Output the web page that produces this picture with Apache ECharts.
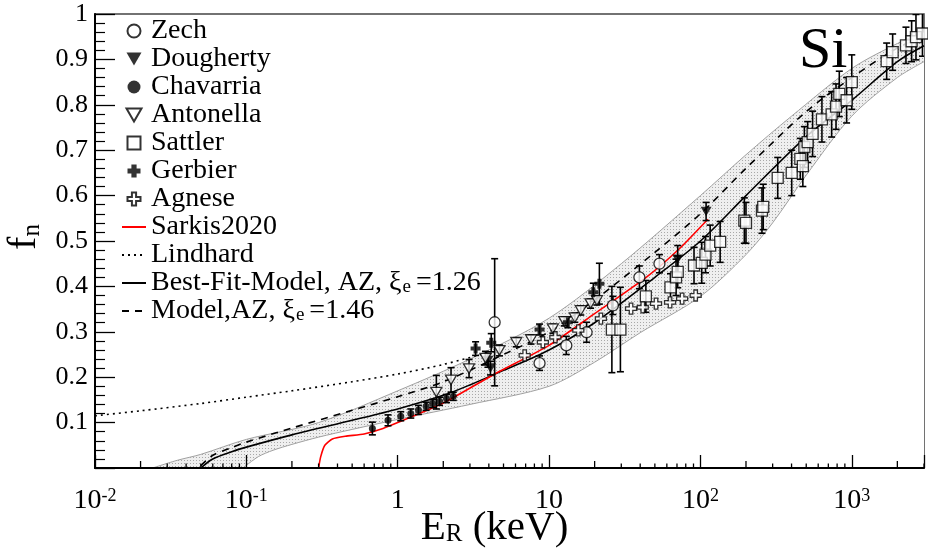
<!DOCTYPE html>
<html><head><meta charset="utf-8">
<script src="https://cdn.jsdelivr.net/npm/echarts@6/dist/echarts.min.js"></script>
<style>html,body{margin:0;padding:0;background:#fff}#c{width:928px;height:551px}</style>
</head><body><div id="c"></div>
<script>
// ---------- data ----------
const zechE = [4.37, 8.65, 13, 17.7, 26.4, 39.5, 53.6];
const zechF = [0.321, 0.231, 0.27, 0.299, 0.358, 0.42, 0.45];
const zechErr = [0.14, 0.016, 0.02, 0.022, 0.02, 0.025, 0.02];

const doughE = [3.95, 4.1, 70.8, 109];
const doughF = [0.237, 0.22, 0.46, 0.565];
const doughErr = [0.015, 0.015, 0.03, 0.02];

const chavE = [0.68, 0.863, 1.047, 1.22, 1.37, 1.54, 1.7, 1.89, 2.1, 2.33];
const chavF = [0.087, 0.105, 0.114, 0.12, 0.128, 0.136, 0.142, 0.147, 0.153, 0.158];
const chavErr = [0.014, 0.012, 0.01, 0.01, 0.01, 0.009, 0.009, 0.009, 0.009, 0.009];

const antE = [1.8, 2.25, 2.96, 3.8, 4.7, 6.07, 7.6, 10.6, 12.6, 14.8, 16.2, 18.8, 20.7];
const antF = [0.167, 0.194, 0.219, 0.242, 0.259, 0.277, 0.283, 0.307, 0.323, 0.331, 0.347, 0.362, 0.369];
const antErr = [0.037, 0.027, 0.02, 0.015, 0.012, 0.01, 0.01, 0.01, 0.01, 0.01, 0.01, 0.01, 0.01];

const satE = [26, 29.6, 43.6, 63.4, 69, 70.8, 90.7, 102, 108, 116, 135, 195, 200, 255, 260, 324, 401, 457, 475, 486, 511, 551, 635, 736, 787, 827, 924, 1000, 1700, 1862, 2280, 2485, 2655, 2931];
const satF = [0.305, 0.305, 0.378, 0.398, 0.42, 0.432, 0.446, 0.452, 0.47, 0.49, 0.498, 0.545, 0.54, 0.567, 0.575, 0.639, 0.65, 0.681, 0.665, 0.707, 0.718, 0.736, 0.768, 0.779, 0.796, 0.824, 0.81, 0.85, 0.896, 0.916, 0.931, 0.94, 0.949, 0.957];
const satErr = [0.095, 0.093, 0.035, 0.03, 0.04, 0.035, 0.04, 0.045, 0.04, 0.045, 0.045, 0.05, 0.045, 0.05, 0.05, 0.045, 0.05, 0.045, 0.045, 0.045, 0.045, 0.05, 0.05, 0.05, 0.05, 0.05, 0.05, 0.06, 0.04, 0.04, 0.04, 0.045, 0.05, 0.05];

const gerbE = [3.27, 4.15, 8.65, 13.3, 19.6, 21.5];
const gerbF = [0.263, 0.276, 0.305, 0.321, 0.387, 0.406];
const gerbErr = [0.015, 0.02, 0.012, 0.012, 0.02, 0.045];

const agnE = [6.9, 9.1, 11, 15.6, 22, 34.8, 41.6, 50.9, 63, 75.7, 93];
const agnF = [0.248, 0.277, 0.288, 0.303, 0.329, 0.351, 0.354, 0.362, 0.365, 0.373, 0.38];

const sarkisE = [0.3, 0.31, 0.33, 0.37, 0.45, 0.6, 0.8, 1, 2, 4.26, 10, 20, 43.8, 72.6, 112];
const sarkisF = [0, 0.025, 0.05, 0.064, 0.07, 0.075, 0.087, 0.1, 0.143, 0.205, 0.27, 0.34, 0.42, 0.483, 0.548];

const lindE = [0.01, 0.02, 0.05, 0.1, 0.2, 0.5, 1, 2, 4];
const lindF = [0.115, 0.126, 0.142, 0.156, 0.17, 0.19, 0.207, 0.228, 0.255];

const bestE = [0.05, 0.06, 0.08, 0.1, 0.2, 0.5, 1, 2, 3, 5, 10, 20, 50, 100, 200, 500, 1000, 2000, 3000];
const bestF = [0, 0.02, 0.036, 0.046, 0.073, 0.105, 0.13, 0.16, 0.183, 0.215, 0.26, 0.32, 0.42, 0.5, 0.6, 0.73, 0.81, 0.895, 0.93];

const modelE = [0.05, 0.06, 0.08, 0.1, 0.2, 0.5, 1, 2, 5, 10, 20, 50, 100, 200, 500, 1000, 2000, 3000];
const modelF = [0.005, 0.028, 0.045, 0.057, 0.088, 0.127, 0.157, 0.19, 0.25, 0.3, 0.37, 0.475, 0.56, 0.66, 0.785, 0.86, 0.925, 0.95];

const bandUpE = [0.024, 0.035, 0.05, 0.1, 0.3, 1, 3, 10, 30, 100, 200, 400, 1000, 2000, 3000];
const bandUpF = [0, 0.017, 0.03, 0.063, 0.1, 0.17, 0.24, 0.33, 0.45, 0.6, 0.69, 0.775, 0.88, 0.935, 0.96];
const bandLoE = [0.095, 0.12, 0.15, 0.2, 0.3, 0.5, 1, 3, 10, 20, 40, 100, 200, 300, 500, 1000, 2000, 3000];
const bandLoF = [0, 0.025, 0.039, 0.052, 0.068, 0.085, 0.107, 0.14, 0.18, 0.233, 0.298, 0.378, 0.47, 0.54, 0.645, 0.775, 0.86, 0.895];

const xTickDecades = [0.01, 0.1, 1, 10, 100, 1000];
const xMinorMult = [2, 3, 4, 5, 6, 7, 8, 9];

// ---------- helpers ----------
const FONT = 'Liberation Serif';
const pairs = (E, F) => E.map((e, i) => [e, F[i]]);
const triples = (E, F, R) => E.map((e, i) => [e, F[i], R[i]]);

// stipple pattern for the band
const pat = document.createElement('canvas');
pat.width = 3; pat.height = 3;
(function () {
  const c = pat.getContext('2d');
  c.fillStyle = '#efefef'; c.fillRect(0, 0, 3, 3);
  c.fillStyle = '#a8a8a8'; c.fillRect(1, 1, 1, 1);
})();

const SYM_TRI_DOWN = 'path://M0,0L10,0L5,8.66Z';
const SYM_SQUARE = 'path://M0,0H10V10H0Z';
const SYM_PLUS_OPEN = 'path://M3.4,0H6.6V3.4H10V6.6H6.6V10H3.4V6.6H0V3.4H3.4Z';
const SYM_PLUS_FILL = 'path://M3,0H7V3H10V7H7V10H3V7H0V3H3Z';

const openStyle = { color: '#fff', borderColor: '#000', borderWidth: 1.3 };
const fillStyle = { color: '#000', borderColor: '#000', borderWidth: 0 };

function scatter(name, E, F, symbol, size, style, z) {
  return {
    name, type: 'scatter', data: pairs(E, F), symbol, symbolSize: size,
    symbolKeepAspect: true, itemStyle: style, z: z || 6, silent: true
  };
}

const errData = [].concat(
  triples(zechE, zechF, zechErr), triples(doughE, doughF, doughErr),
  triples(chavE, chavF, chavErr), triples(antE, antF, antErr),
  triples(satE, satF, satErr), triples(gerbE, gerbF, gerbErr)
);

const minorTicks = [];
xTickDecades.forEach(d => xMinorMult.forEach(m => { if (d * m <= 3000) minorTicks.push([d * m, m]); }));

function lineSeries(name, E, F, color, type, width, z, sm) {
  return {
    name, type: 'line', data: pairs(E, F), symbol: 'none', smooth: sm,
    z: z || 4, silent: true,
    lineStyle: { color, type, width }, itemStyle: { color }
  };
}

const lineNames = ['Sarkis2020', 'Lindhard', 'Best-Fit-Model, AZ, ξe=1.26', 'Model,AZ, ξe=1.46'];
const legendNames = ['Zech', 'Dougherty', 'Chavarria', 'Antonella', 'Sattler', 'Gerbier', 'Agnese'].concat(lineNames);
const legendFmt = {
  'Best-Fit-Model, AZ, ξe=1.26': 'Best-Fit-Model, AZ, ξ{s|e}=1.26',
  'Model,AZ, ξe=1.46': 'Model,AZ, ξ{s|e}=1.46'
};

const chart = echarts.init(document.getElementById('c'), null, { renderer: 'canvas' });
const option = {
  animation: false,
  backgroundColor: '#fff',
  textStyle: { fontFamily: FONT, color: '#000' },
  grid: {
    left: 95, right: 4, top: 14, bottom: 83, show: true, borderColor: '#444', borderWidth: 1.5,
    backgroundColor: 'transparent', containLabel: false, outerBoundsMode: 'none'
  },
  legend: {
    data: legendNames.map(n => lineNames.indexOf(n) >= 0 ? { name: n, itemStyle: { opacity: 0 } } : { name: n }),
    orient: 'vertical', left: 121, top: 17, itemWidth: 24, itemHeight: 13,
    itemGap: 0, selectedMode: false, padding: 0,
    formatter: n => legendFmt[n] || n,
    textStyle: {
      fontFamily: FONT, fontSize: 28, color: '#000', lineHeight: 26.75,
      rich: { s: { fontFamily: FONT, fontSize: 19, color: '#000', lineHeight: 11, verticalAlign: 'bottom', padding: [0, 5, 0, 1] } }
    }
  },
  xAxis: {
    type: 'log', logBase: 10, min: 0.01, max: 3000, z: 10,
    axisLine: { show: true, onZero: false, lineStyle: { color: '#000', width: 2 } },
    axisTick: { show: true, inside: true, length: 13, lineStyle: { color: '#000', width: 1.3 } },
    splitLine: { show: false }, minorTick: { show: false },
    axisLabel: {
      margin: 19, color: '#000', fontFamily: FONT, fontSize: 28,
      formatter: v => {
        const l = Math.log10(v), r = Math.round(l);
        if (Math.abs(l - r) > 1e-6) return '';
        if (r === 0) return '1';
        if (r === 1) return '10';
        return '10{sup|' + (r < 0 ? '-' : '') + Math.abs(r) + '}';
      },
      rich: { sup: { fontFamily: FONT, fontSize: 18, color: '#000', lineHeight: 15, verticalAlign: 'top' } }
    },
    name: '{a|E}{s|R}{a| (keV)}', nameLocation: 'middle', nameGap: 41, nameMoveOverlap: false,
    nameTextStyle: {
      padding: [0, 30, 0, 0],
      rich: {
        a: { fontFamily: FONT, fontSize: 41, color: '#000', lineHeight: 38 },
        s: { fontFamily: FONT, fontSize: 25, color: '#000', lineHeight: 14, verticalAlign: 'bottom' }
      }
    }
  },
  yAxis: {
    type: 'value', min: 0, max: 1, interval: 0.1, z: 10,
    axisLine: { show: true, onZero: false, lineStyle: { color: '#000', width: 2 } },
    axisTick: { show: true, inside: true, length: 20, lineStyle: { color: '#000', width: 1.3 } },
    minorTick: { show: true, splitNumber: 5, length: 10, lineStyle: { color: '#000', width: 1.2 } },
    splitLine: { show: false },
    axisLabel: {
      margin: 7, color: '#000', fontFamily: FONT, fontSize: 26,
      formatter: v => v === 0 ? '' : (Math.abs(v - 1) < 1e-9 ? '1' : v.toFixed(1))
    },
    name: '{a|f}{s|n}', nameLocation: 'middle', nameRotate: 90, nameGap: 50, nameMoveOverlap: false,
    nameTextStyle: {
      padding: [0, 0, 0, 8],
      rich: {
        a: { fontFamily: FONT, fontSize: 40, color: '#000', lineHeight: 42 },
        s: { fontFamily: FONT, fontSize: 25, color: '#000', lineHeight: 18, verticalAlign: 'bottom' }
      }
    }
  },
  graphic: [{
    type: 'text', left: 799, top: 23, z: 20,
    style: { text: 'Si', fontFamily: FONT, fontSize: 58, fill: '#000' }
  }],
  series: [
    // grey band: upper boundary filled to axis, lower boundary masked in white
    {
      name: 'bandUp', type: 'line', data: pairs(bandUpE, bandUpF), symbol: 'none', smooth: 0.3,
      z: 1, silent: true, lineStyle: { color: '#a0a0a0', width: 1 },
      areaStyle: { color: { image: pat, repeat: 'repeat' }, opacity: 1, origin: 'start' }
    },
    {
      name: 'bandLo', type: 'line', data: pairs(bandLoE, bandLoF), symbol: 'none', smooth: 0.3,
      z: 1, silent: true, lineStyle: { color: '#a0a0a0', width: 1 },
      areaStyle: { color: '#fff', opacity: 1, origin: 'start' }
    },
    lineSeries('Lindhard', lindE, lindF, '#000', [2, 4], 1.6, 3, 0.3),
    lineSeries('Model,AZ, ξe=1.46', modelE, modelF, '#000', [7, 6], 1.6, 3, 0.3),
    lineSeries('Best-Fit-Model, AZ, ξe=1.26', bestE, bestF, '#000', 'solid', 1.6, 3, 0.3),
    lineSeries('Sarkis2020', sarkisE, sarkisF, '#ff0000', 'solid', 1.6, 4, 0.2),
    // error bars
    {
      name: 'errbars', type: 'custom', data: errData, z: 5, silent: true, clip: true,
      encode: { x: 0, y: 1 },
      renderItem: (p, api) => {
        const x = api.value(0), y = api.value(1), e = api.value(2);
        const a = api.coord([x, y - e]), b = api.coord([x, y + e]);
        const w = 3.5, st = { stroke: '#000', lineWidth: 1.6 };
        return {
          type: 'group', children: [
            { type: 'line', shape: { x1: a[0], y1: a[1], x2: b[0], y2: b[1] }, style: st },
            { type: 'line', shape: { x1: a[0] - w, y1: a[1], x2: a[0] + w, y2: a[1] }, style: st },
            { type: 'line', shape: { x1: b[0] - w, y1: b[1], x2: b[0] + w, y2: b[1] }, style: st }
          ]
        };
      }
    },
    // x minor ticks (2..9 in each decade)
    {
      name: 'xminor', type: 'custom', data: minorTicks, z: 11, silent: true, clip: false,
      encode: { x: 0 },
      renderItem: (p, api) => {
        const v = api.value(0), m = api.value(1);
        const c = api.coord([v, 0]);
        const len = m === 2 ? 7 : 4.5;
        return { type: 'line', shape: { x1: c[0], y1: c[1], x2: c[0], y2: c[1] - len }, style: { stroke: '#000', lineWidth: 1.3 } };
      }
    },
    scatter('Zech', zechE, zechF, 'circle', 11, openStyle),
    scatter('Dougherty', doughE, doughF, SYM_TRI_DOWN, 11, fillStyle),
    scatter('Chavarria', chavE, chavF, 'circle', 7, fillStyle),
    scatter('Antonella', antE, antF, SYM_TRI_DOWN, 11, openStyle),
    scatter('Sattler', satE, satF, SYM_SQUARE, 11, openStyle),
    scatter('Gerbier', gerbE, gerbF, SYM_PLUS_FILL, 10, fillStyle),
    scatter('Agnese', agnE, agnF, SYM_PLUS_OPEN, 11, openStyle)
  ]
};
chart.setOption(option);
</script>
</body></html>
